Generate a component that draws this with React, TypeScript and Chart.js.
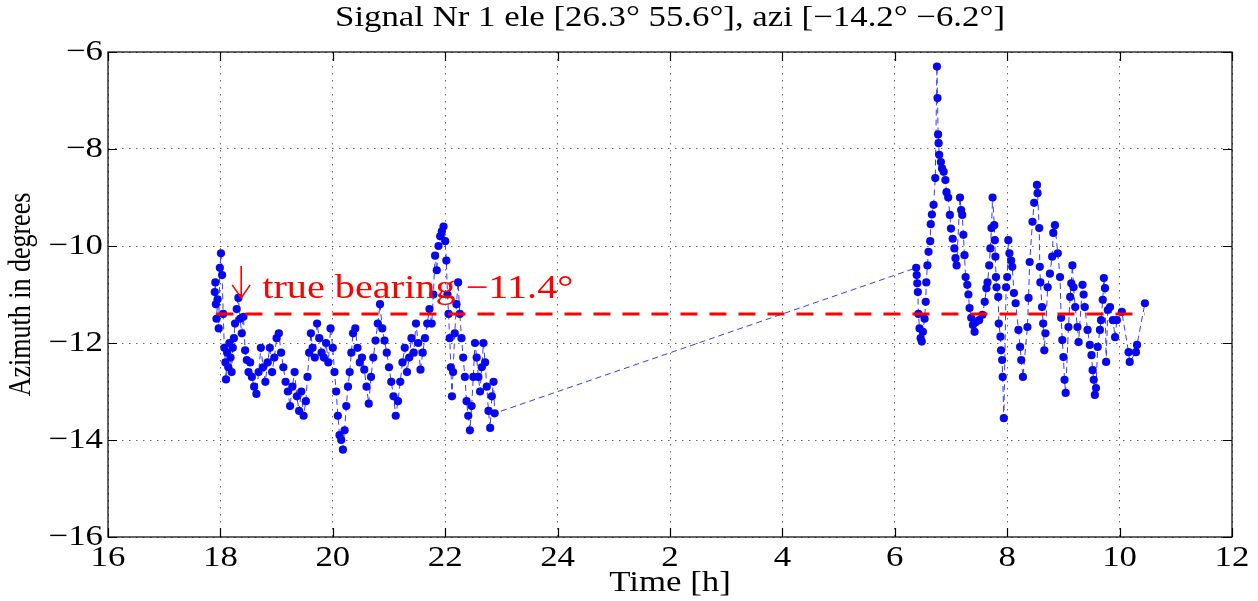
import React, { useEffect, useRef } from "react";
import { Chart, registerables } from "chart.js";

Chart.register(...registerables);

const TITLE = "Signal Nr 1 ele [26.3° 55.6°], azi [−14.2° −6.2°]";
const X_LABEL = "Time [h]";
const Y_LABEL = "Azimuth in degrees";
const ANNOTATION = "true bearing −11.4°";

const TRUE_BEARING = -11.4;
const BEARING_START = 17.93;
const BEARING_END_CLOCK = 10.45;
const ARROW_TARGET: [number, number] = [18.37, -11.07];

const X_MIN = 16;
const X_MAX = 36;
const X_STEP = 2;
const Y_MIN = -16;
const Y_MAX = -6;
const Y_STEP = 2;

// evening samples: [clock hour, azimuth deg]
const eveningSamples: [number, number][] = [
  [17.90, -10.95], [17.91, -10.75], [17.92, -11.2], [17.93, -11.5], [17.95, -11.1], [17.97, -11.7],
  [17.99, -10.45], [18.01, -10.15], [18.03, -10.6], [18.05, -11.4], [18.07, -12.1], [18.09, -12.4],
  [18.10, -12.75], [18.12, -12.2], [18.14, -12.5], [18.16, -12.0], [18.18, -12.3], [18.20, -12.6],
  [18.22, -12.1], [18.24, -11.9], [18.26, -11.6], [18.29, -11.3], [18.32, -11.07], [18.35, -11.5],
  [18.38, -11.8], [18.41, -11.46], [18.44, -12.15], [18.47, -12.35], [18.50, -12.6], [18.53, -12.4],
  [18.56, -12.7], [18.60, -12.9], [18.64, -13.05], [18.68, -12.6], [18.72, -12.1], [18.76, -12.5],
  [18.80, -12.8], [18.84, -12.4], [18.88, -12.1], [18.92, -12.6], [18.96, -12.3], [19.00, -11.9],
  [19.04, -11.8], [19.08, -12.2], [19.12, -12.5], [19.16, -12.8], [19.20, -13.0], [19.24, -13.3],
  [19.28, -12.9], [19.32, -12.6], [19.36, -13.1], [19.40, -13.4], [19.44, -13.0], [19.48, -13.5],
  [19.52, -13.2], [19.55, -12.7], [19.58, -12.2], [19.61, -11.8], [19.64, -12.1], [19.68, -12.3],
  [19.72, -11.6], [19.76, -11.9], [19.80, -12.2], [19.84, -12.3], [19.88, -12.0], [19.92, -12.4],
  [19.96, -11.7], [20.00, -12.1], [20.03, -12.6], [20.06, -13.0], [20.09, -13.5], [20.12, -13.9],
  [20.15, -14.0], [20.18, -14.2], [20.21, -13.8], [20.24, -13.3], [20.27, -12.9], [20.30, -12.6],
  [20.33, -12.2], [20.36, -11.8], [20.40, -11.7], [20.44, -12.1], [20.48, -12.4], [20.52, -12.3],
  [20.56, -12.55], [20.60, -12.9], [20.64, -13.25], [20.68, -12.7], [20.72, -12.3], [20.76, -11.95],
  [20.80, -11.6], [20.84, -11.2], [20.88, -11.7], [20.92, -11.95], [20.96, -12.2], [21.00, -12.5],
  [21.04, -12.8], [21.08, -13.1], [21.12, -13.5], [21.16, -13.2], [21.20, -12.8], [21.24, -12.4],
  [21.28, -12.1], [21.32, -12.6], [21.36, -12.3], [21.40, -11.9], [21.44, -12.2], [21.48, -11.6],
  [21.52, -12.0], [21.56, -12.55], [21.60, -12.2], [21.64, -11.9], [21.68, -11.6], [21.72, -11.3],
  [21.76, -11.6], [21.79, -11.0], [21.82, -10.2], [21.85, -10.5], [21.88, -10.0], [21.91, -9.8],
  [21.94, -9.7], [21.97, -9.6], [22.00, -9.9], [22.02, -10.3], [22.04, -11.0], [22.06, -11.4],
  [22.08, -11.9], [22.10, -12.5], [22.12, -13.1], [22.14, -12.6], [22.17, -11.8], [22.20, -11.2],
  [22.23, -10.75], [22.26, -11.4], [22.29, -11.9], [22.32, -12.3], [22.35, -12.7], [22.38, -13.2],
  [22.41, -13.5], [22.44, -13.8], [22.47, -13.3], [22.50, -12.7], [22.53, -12.0], [22.56, -12.3],
  [22.59, -12.7], [22.62, -13.0], [22.65, -12.5], [22.68, -12.0], [22.71, -12.4], [22.74, -12.9],
  [22.77, -13.4], [22.80, -13.75], [22.83, -13.1], [22.86, -12.8], [22.88, -13.45],
];

// morning samples (next day): [clock hour, azimuth deg]
const morningSamples: [number, number][] = [
  [6.38, -10.45], [6.39, -10.6], [6.40, -10.77], [6.41, -10.95], [6.42, -11.4], [6.44, -11.7],
  [6.46, -11.9], [6.48, -11.97], [6.50, -11.77], [6.53, -11.5], [6.55, -11.15], [6.56, -10.75],
  [6.58, -10.4], [6.60, -10.12], [6.63, -9.9], [6.64, -9.55], [6.66, -9.35], [6.69, -9.15],
  [6.72, -8.6], [6.75, -6.3], [6.76, -6.95], [6.77, -7.7], [6.78, -7.88], [6.79, -8.12],
  [6.82, -8.27], [6.84, -8.4], [6.87, -8.47], [6.90, -8.64], [6.92, -8.89], [6.95, -9.0],
  [6.98, -9.36], [7.00, -9.64], [7.03, -9.85], [7.06, -10.05], [7.08, -10.25], [7.10, -10.4],
  [7.16, -9.0], [7.18, -9.26], [7.20, -9.36], [7.22, -9.77], [7.24, -10.19], [7.26, -10.64],
  [7.29, -10.8], [7.31, -11.0], [7.33, -11.28], [7.36, -11.48], [7.39, -11.63], [7.42, -11.77],
  [7.44, -11.57], [7.50, -11.53], [7.56, -11.42], [7.60, -11.15], [7.63, -10.87], [7.65, -10.75],
  [7.68, -10.4], [7.70, -10.05], [7.72, -9.63], [7.74, -9.0], [7.77, -9.57], [7.78, -9.88],
  [7.79, -10.22], [7.80, -10.64], [7.81, -10.85], [7.84, -11.05], [7.85, -11.6], [7.88, -11.87],
  [7.89, -12.15], [7.91, -12.35], [7.92, -12.7], [7.94, -13.55], [7.98, -10.85], [8.00, -10.64],
  [8.02, -9.88], [8.04, -10.15], [8.07, -10.3], [8.09, -10.43], [8.12, -10.97], [8.15, -11.18],
  [8.20, -11.73], [8.23, -12.08], [8.25, -12.35], [8.28, -12.7], [8.36, -11.67], [8.38, -11.07],
  [8.40, -10.33], [8.45, -9.5], [8.48, -9.11], [8.53, -8.74], [8.54, -8.91], [8.57, -9.63],
  [8.58, -10.43], [8.59, -10.75], [8.62, -11.26], [8.64, -11.6], [8.66, -12.15], [8.68, -11.8],
  [8.72, -10.85], [8.76, -10.57], [8.80, -10.22], [8.82, -9.73], [8.85, -9.57], [8.90, -10.15],
  [8.94, -10.64], [8.96, -11.48], [8.98, -11.94], [9.00, -12.29], [9.02, -12.76], [9.04, -13.03],
  [9.09, -11.67], [9.12, -11.05], [9.14, -10.77], [9.16, -10.4], [9.18, -10.85], [9.21, -11.26],
  [9.25, -11.67], [9.27, -11.98], [9.34, -10.8], [9.36, -11.0], [9.38, -11.26], [9.43, -11.73],
  [9.47, -12.04], [9.50, -12.25], [9.52, -12.56], [9.54, -12.76], [9.56, -13.07], [9.58, -12.93],
  [9.61, -12.08], [9.65, -11.73], [9.67, -11.53], [9.70, -11.11], [9.72, -10.66], [9.74, -10.87],
  [9.76, -12.39], [9.79, -11.32], [9.83, -11.26], [9.88, -11.53], [9.92, -11.88], [9.95, -11.53],
  [10.04, -11.36], [10.16, -12.19], [10.18, -12.39], [10.29, -12.19], [10.31, -12.04], [10.45, -11.18],
];

const FONT = "'Liberation Serif', 'Times New Roman', serif";
const STRETCH = 1.2;
const TEXT_SIZE = 29;

function clockLabel(v: number): string {
  const h = v > 24 ? v - 24 : v;
  return String(Math.round(h));
}
function minusLabel(v: number): string {
  return v < 0 ? "\u2212" + String(Math.abs(v)) : String(v);
}

function drawText(
  ctx: CanvasRenderingContext2D,
  text: string,
  x: number,
  y: number,
  align: CanvasTextAlign,
  size: number,
  color = "#000",
  sx = STRETCH
) {
  ctx.save();
  ctx.translate(x, y);
  ctx.scale(sx, 1);
  ctx.font = `${size}px ${FONT}`;
  ctx.fillStyle = color;
  ctx.textAlign = align;
  ctx.textBaseline = "middle";
  ctx.fillText(text, 0, 0);
  ctx.restore();
}

const decorPlugin = {
  id: "matlabDecor",
  afterDraw(chart: any) {
    const ctx: CanvasRenderingContext2D = chart.ctx;
    const { left, right, top, bottom } = chart.chartArea;
    const xs = chart.scales.x;
    const ys = chart.scales.y;
    ctx.save();
    // frame
    ctx.strokeStyle = "#000";
    ctx.lineWidth = 1.2;
    ctx.strokeRect(left, top, right - left, bottom - top);
    // inward ticks
    const tl = 9;
    ctx.beginPath();
    for (let v = X_MIN; v <= X_MAX; v += X_STEP) {
      const px = Math.round(xs.getPixelForValue(v)) + 0.5;
      ctx.moveTo(px, bottom);
      ctx.lineTo(px, bottom - tl);
      ctx.moveTo(px, top);
      ctx.lineTo(px, top + tl);
    }
    for (let v = Y_MIN; v <= Y_MAX; v += Y_STEP) {
      const py = Math.round(ys.getPixelForValue(v)) + 0.5;
      ctx.moveTo(left, py);
      ctx.lineTo(left + tl, py);
      ctx.moveTo(right, py);
      ctx.lineTo(right - tl, py);
    }
    ctx.stroke();
    // tick labels
    for (let v = X_MIN; v <= X_MAX; v += X_STEP) {
      drawText(ctx, clockLabel(v), xs.getPixelForValue(v), bottom + 21, "center", TEXT_SIZE);
    }
    for (let v = Y_MIN; v <= Y_MAX; v += Y_STEP) {
      drawText(ctx, minusLabel(v), left - 5, ys.getPixelForValue(v), "right", TEXT_SIZE);
    }
    // title & axis labels
    const cx = (left + right) / 2;
    drawText(ctx, TITLE, cx, top - 34, "center", TEXT_SIZE);
    drawText(ctx, X_LABEL, cx, bottom + 46, "center", TEXT_SIZE);
    ctx.save();
    ctx.translate(left - 86, (top + bottom) / 2);
    ctx.rotate(-Math.PI / 2);
    ctx.scale(1, STRETCH);
    ctx.font = `26px ${FONT}`;
    ctx.fillStyle = "#000";
    ctx.textAlign = "center";
    ctx.textBaseline = "middle";
    ctx.fillText(Y_LABEL, 0, 0);
    ctx.restore();
    // annotation arrow + text
    const ax = xs.getPixelForValue(ARROW_TARGET[0]);
    const ay = ys.getPixelForValue(ARROW_TARGET[1]);
    ctx.strokeStyle = "#ff0000";
    ctx.lineWidth = 1.6;
    ctx.beginPath();
    ctx.moveTo(ax, ay - 32);
    ctx.lineTo(ax, ay);
    ctx.moveTo(ax - 9, ay - 13);
    ctx.lineTo(ax, ay);
    ctx.lineTo(ax + 9, ay - 13);
    ctx.stroke();
    drawText(ctx, ANNOTATION, ax + 21, ay - 9, "left", 33, "#ff0000", 1.22);
    ctx.restore();
  },
};

export default function App() {
  const canvasRef = useRef<HTMLCanvasElement | null>(null);

  useEffect(() => {
    const canvas = canvasRef.current;
    if (!canvas) return;
    const points = [
      ...eveningSamples.map(([t, a]) => ({ x: t, y: a })),
      ...morningSamples.map(([t, a]) => ({ x: t + 24, y: a })),
    ];
    const bearingLine = [
      { x: BEARING_START, y: TRUE_BEARING },
      { x: BEARING_END_CLOCK + 24, y: TRUE_BEARING },
    ];
    const chart = new Chart(canvas, {
      type: "scatter",
      data: {
        datasets: [
          {
            data: bearingLine,
            showLine: true,
            borderColor: "#ff0000",
            borderWidth: 3,
            borderDash: [17, 12],
            pointRadius: 0,
            order: 0,
          },
          {
            data: points,
            showLine: true,
            borderColor: "#3a3aff",
            borderWidth: 1,
            borderDash: [6, 4],
            pointRadius: 4.1,
            pointBackgroundColor: "#0808ee",
            pointBorderColor: "#0808ee",
            pointBorderWidth: 0,
            order: 1,
          },
        ],
      },
      options: {
        animation: false,
        responsive: false,
        devicePixelRatio: 1,
        layout: { padding: { top: 52, right: 26, left: 0, bottom: 0 } },
        plugins: {
          legend: { display: false },
          title: { display: false },
          tooltip: { enabled: false },
        },
        scales: {
          x: {
            type: "linear",
            min: X_MIN,
            max: X_MAX,
            ticks: { stepSize: X_STEP, display: false },
            grid: { color: "rgba(0,0,0,0.6)", lineWidth: 1, drawTicks: false },
            border: { display: false, dash: [1.5, 5.5] },
            afterFit: (s: any) => {
              s.height = 64;
            },
          },
          y: {
            type: "linear",
            min: Y_MIN,
            max: Y_MAX,
            ticks: { stepSize: Y_STEP, display: false },
            grid: { color: "rgba(0,0,0,0.6)", lineWidth: 1, drawTicks: false },
            border: { display: false, dash: [1.5, 5.5] },
            afterFit: (s: any) => {
              s.width = 108;
            },
          },
        },
      },
      plugins: [decorPlugin],
    });
    return () => chart.destroy();
  }, []);

  return (
    <div style={{ position: "absolute", left: 0, top: 0, width: 1258, height: 601, background: "#fff" }}>
      <canvas ref={canvasRef} width={1258} height={601} style={{ width: 1258, height: 601, display: "block" }} />
    </div>
  );
}
